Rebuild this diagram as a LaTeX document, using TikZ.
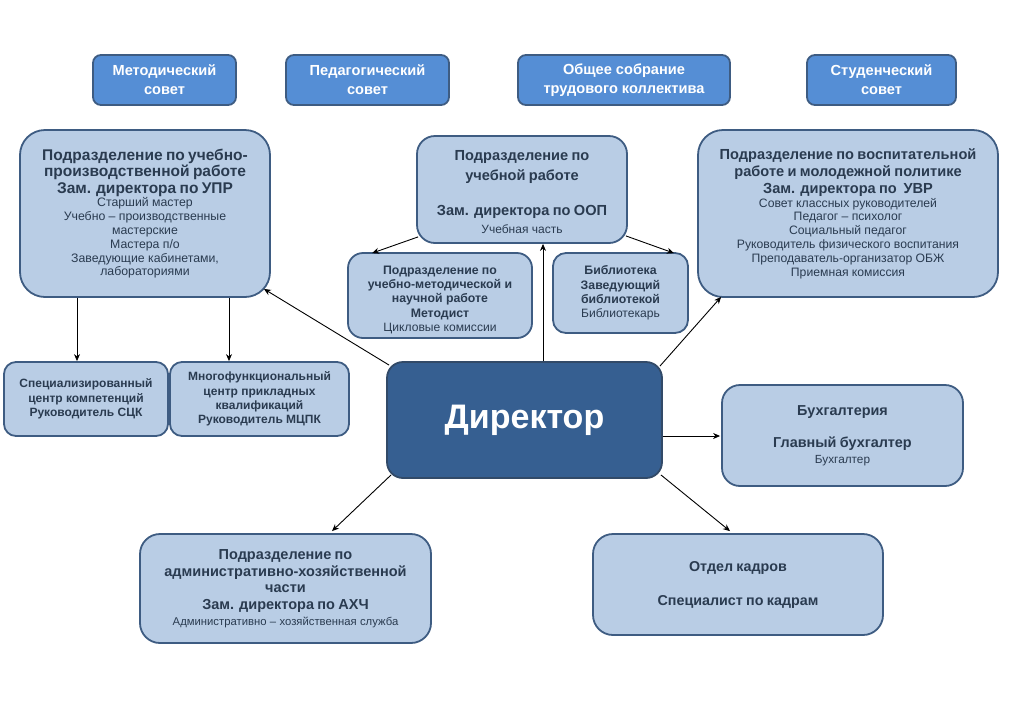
\documentclass[tikz,border=0pt]{standalone}
\usepackage{fontspec}
\setmainfont{Liberation Sans}
\usetikzlibrary{arrows.meta}
\definecolor{lfill}{HTML}{B9CDE5}
\definecolor{bord}{HTML}{3E5C82}
\definecolor{tfill}{HTML}{558ED5}
\definecolor{dfill}{HTML}{365F91}
\definecolor{txt}{HTML}{2A3B50}
\newcommand\BT[3]{{\fontsize{#1}{#2}\selectfont\bfseries #3\par}}
\newcommand\RT[3]{{\fontsize{#1}{#2}\selectfont #3\par}}
\tikzset{
  lbox/.style={draw=bord, line width=1.8pt, fill=lfill, text=txt, align=center, inner sep=2pt},
  tbox/.style={draw=bord, line width=1.8pt, fill=tfill, text=white, align=center, rounded corners=8pt, font=\fontsize{14.6}{19}\selectfont\bfseries},
  dbox/.style={draw=bord!80!black, line width=1.8pt, fill=dfill, text=white, rounded corners=16pt, font=\fontsize{34}{40}\selectfont\bfseries},
  arr/.style={draw=black, line width=0.9pt, -{Stealth[length=7pt,width=6pt]}}
}
\begin{document}
\begin{tikzpicture}[x=1pt,y=-1pt]
\useasboundingbox[fill=white] (0,0) rectangle (1024,724);
% top boxes
\node[tbox, minimum width=143pt, minimum height=50pt] (met) at (164.5,80) {Методический\\совет};
\node[tbox, minimum width=163pt, minimum height=50pt] (ped) at (367.5,80) {Педагогический\\совет};
\node[tbox, minimum width=212pt, minimum height=50pt] (obs) at (624,80) {Общее собрание\\трудового коллектива};
\node[tbox, minimum width=149pt, minimum height=50pt] (stud) at (881.5,80) {Студенческий\\совет};
% main boxes
\node[lbox, rounded corners=25pt, minimum width=250pt, minimum height=167pt, text width=244pt] (upr) at (145,213.5)
 {\BT{15.5}{16.5}{Подразделение по учебно-\\производственной работе\\Зам. директора по УПР}%
  \RT{12.3}{13.8}{Старший мастер\\Учебно – производственные\\мастерские\\Мастера п/о\\Заведующие кабинетами,\\лабораториями}};
\node[lbox, rounded corners=18pt, minimum width=210pt, minimum height=107pt, text width=204pt] (oop) at (522,189.5)
 {\BT{14.6}{19.5}{\rule{0pt}{15pt}Подразделение по\\учебной работе\\[15.5pt]Зам. директора по ООП}%
  \RT{12}{18}{Учебная часть}};
\node[lbox, rounded corners=25pt, minimum width=300pt, minimum height=167pt, text width=294pt] (uvr) at (848,213.5)
 {\BT{14.6}{17}{Подразделение по воспитательной\\работе и молодежной политике\\Зам. директора по\ \ УВР}%
  \RT{12.2}{13.8}{Совет классных руководителей\\Педагог – психолог\\Социальный педагог\\Руководитель физического воспитания\\Преподаватель-организатор ОБЖ\\Приемная комиссия}};
\node[lbox, rounded corners=15pt, minimum width=184pt, minimum height=85pt, text width=180pt] (metd) at (440,295.5)
 {\BT{12.3}{14.3}{\rule{0pt}{17pt}Подразделение по\\учебно-методической и\\научной работе\\Методист}%
  \RT{12.1}{14.5}{Цикловые комиссии}};
\node[lbox, rounded corners=13pt, minimum width=135pt, minimum height=80pt, text width=130pt] (bib) at (620.5,293)
 {\BT{12.3}{14.3}{Библиотека\\Заведующий\\библиотекой}%
  \RT{12.1}{14.3}{Библиотекарь}};
\node[lbox, rounded corners=12pt, minimum width=164pt, minimum height=74pt, text width=160pt] (sck) at (86,399)
 {\BT{12}{14.3}{Специализированный\\центр компетенций\\Руководитель СЦК}};
\node[lbox, rounded corners=12pt, minimum width=179pt, minimum height=74pt, text width=175pt] (mcpk) at (259.5,399)
 {\BT{12}{14.3}{Многофункциональный\\центр прикладных\\квалификаций\\Руководитель МЦПК}};
\node[dbox, minimum width=275pt, minimum height=116pt] (dir) at (524.5,420) {Директор};
\node[lbox, rounded corners=18pt, minimum width=241pt, minimum height=101pt, text width=236pt] (buh) at (842.5,435.5)
 {\BT{14.4}{17}{Бухгалтерия\\[15pt]Главный бухгалтер}%
  \RT{11.8}{16}{Бухгалтер}};
\node[lbox, rounded corners=20pt, minimum width=291pt, minimum height=109pt, text width=285pt] (ahch) at (285.5,588.5)
 {\BT{14.5}{16.5}{Подразделение по\\административно-хозяйственной\\части\\Зам. директора по АХЧ}%
  \RT{11.3}{16}{Административно – хозяйственная служба}};
\node[lbox, rounded corners=20pt, minimum width=290pt, minimum height=101pt, text width=284pt] (kadr) at (738,584.5)
 {\BT{14.3}{17}{Отдел кадров\\[17pt]Специалист по кадрам}};
% connectors
\draw[arr] ([shift={(3,4)}]dir.north west) -- ([shift={(-7,-9)}]upr.south east);
\draw[arr] ([shift={(18.5,0)}]dir.north) -- ([shift={(18.5,0)}]dir.north |- oop.south);
\draw[arr] ([shift={(-3,5)}]dir.north east) -- ([shift={(24,-1)}]uvr.south west);
\draw[arr] ([shift={(2,-7)}]oop.south west) -- ([shift={(25,1)}]metd.north west);
\draw[arr] ([shift={(-2,-8)}]oop.south east) -- ([shift={(-15,1)}]bib.north east);
\draw[arr] ([shift={(-68,0)}]upr.south) -- ([shift={(-9,0)}]sck.north);
\draw[arr] ([shift={(84,0)}]upr.south) -- ([shift={(-30.5,0)}]mcpk.north);
\draw[arr] ([shift={(0,16)}]dir.east) -- ([shift={(-1,0.5)}]buh.west);
\draw[arr] ([shift={(5,-4)}]dir.south west) -- ([shift={(46.5,-2)}]ahch.north);
\draw[arr] ([shift={(-2,-4)}]dir.south east) -- ([shift={(-8,-2)}]kadr.north);
\end{tikzpicture}
\end{document}
